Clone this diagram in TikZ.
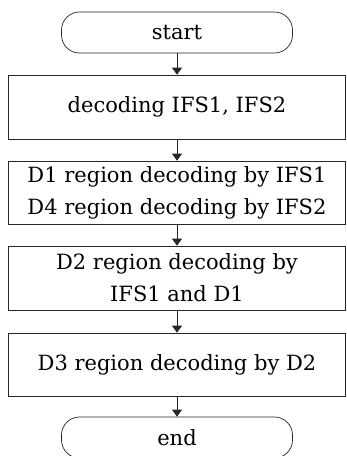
\documentclass[tikz,border=0pt]{standalone}
\usepackage{fontspec}
\setmainfont{DejaVu Serif}
\usetikzlibrary{arrows.meta}
\tikzset{
	stepbox/.style={draw=black!85, line width=0.7pt, rectangle, minimum width=337, minimum height=64, inner sep=0pt, align=center},
	termbox/.style={draw=black!85, line width=0.7pt, rectangle, rounded corners=18pt, minimum width=231, minimum height=41, inner sep=0pt},
	flow/.style={draw=black!85, line width=0.7pt, -{Triangle[length=7pt,width=10pt]}},
}
\begin{document}
\begin{tikzpicture}[x=1pt, y=-1pt, font=\fontsize{21}{32}\selectfont]
		\useasboundingbox (0,0) rectangle (347,456);
		\node[termbox] (start) at (177,32.5) {start};
		\node[stepbox] (dec) at (177,107) {decoding IFS1, IFS2};
		\node[stepbox, minimum height=63] (dA) at (177,192.5) {D1 region decoding by IFS1\\D4 region decoding by IFS2};
		\node[stepbox] (dB) at (177,278) {D2 region decoding by\\IFS1 and D1};
		\node[stepbox, minimum height=63] (dC) at (177,364.5) {D3 region decoding by D2};
		\node[termbox] (end) at (177,437.5) {end};
		\foreach \a/\b in {start/dec,dec/dA,dA/dB,dB/dC,dC/end}{
			\draw[flow] (\a.south) -- (\b.north);
		}
		\end{tikzpicture}
\end{document}
